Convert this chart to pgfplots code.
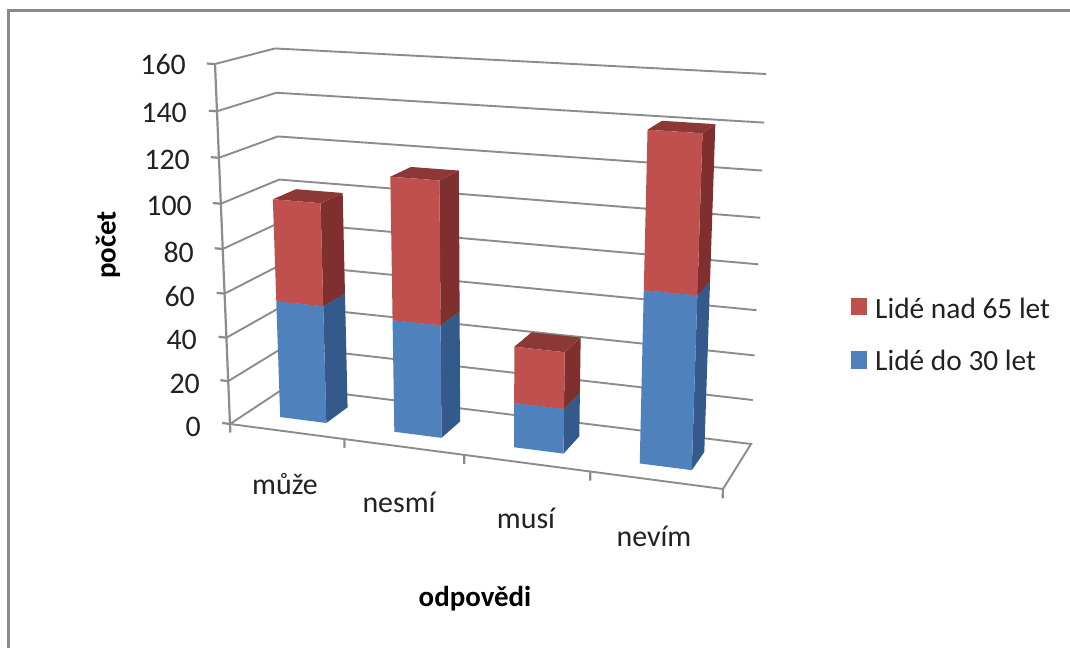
\documentclass[border=0pt]{standalone}
\usepackage{pgfplots}
\pgfplotsset{compat=1.18}
\usepackage{fontspec}
\setmainfont{Carlito}
\definecolor{gridgray}{HTML}{8C8C8C}
\definecolor{framegray}{HTML}{8A8A8A}
\definecolor{redfront}{HTML}{C0504D}
\definecolor{redside}{HTML}{7F302E}
\definecolor{redtop}{HTML}{8C3836}
\definecolor{bluefront}{HTML}{4F81BD}
\definecolor{blueside}{HTML}{335A8A}
\definecolor{bluetop}{HTML}{3F6797}
\definecolor{inkdark}{HTML}{222222}

% One polygon of the box, given as rows of category position, depth and value.
\newcommand{\poly}[2]{%
  \addplot[#1] table[row sep=\\,
    x expr={px(\thisrow{c},\thisrow{d},\thisrow{v})},
    y expr={py(\thisrow{c},\thisrow{d},\thisrow{v})}] {c d v\\ #2};}

% One stacked segment: left, right, lower value, upper value, three shades.
\newcommand{\seg}[7]{%
  \poly{fill=#6,draw=none}{#2 0.29 #3\\ #2 0.70 #3\\ #2 0.70 #4\\ #2 0.29 #4\\}
  \poly{fill=#7,draw=none}{#1 0.29 #4\\ #2 0.29 #4\\ #2 0.70 #4\\ #1 0.70 #4\\}
  \poly{fill=#5,draw=none}{#1 0.29 #3\\ #2 0.29 #3\\ #2 0.29 #4\\ #1 0.29 #4\\}
}
% One bar: left, right, value of the lower series, sum of both series.
\newcommand{\stackbar}[4]{%
  \seg{#1}{#2}{0}{#3}{bluefront}{blueside}{bluetop}
  \seg{#1}{#2}{#3}{#4}{redfront}{redside}{redtop}
}

\begin{document}
\begin{tikzpicture}
\begin{axis}[
  scale only axis, width=1070bp, height=648bp,
  xmin=0, xmax=1070, ymin=0, ymax=648, y dir=reverse,
  hide axis, clip=true,
  declare function={
    pw(\pos,\dep,\val)=1-0.09431*\pos/4+0.06589*\dep-0.054*\val/160;
    px(\pos,\dep,\val)=(424.81*\pos/4+74.85*\dep-26.61*\val/160+230)/pw(\pos,\dep,\val);
    py(\pos,\dep,\val)=(18.88*\pos/4-11.50*\dep-363.46*\val/160+424)/pw(\pos,\dep,\val);
  },
  every axis plot/.append style={forget plot},
]
% page and outer frame
\addplot[draw=none,fill=white] coordinates {(0,0) (1070,0) (1070,648) (0,648)} --cycle;
\addplot[draw=framegray,line width=2.7bp] coordinates {(8.5,700) (8.5,10.3) (1100,10.3)};

% gridlines on the two walls
\pgfplotsinvokeforeach{20,40,...,160}{
  \poly{draw=gridgray,line width=1.9bp}{0 0 #1\\ 0 1 #1\\ 4 1 #1\\}
}
% floor outline
\poly{draw=gridgray,line width=1.9bp}{0 1 0\\ 0 0 0\\ 4 0 0\\ 4 1 0\\ 0 1 0\\}
% value axis with its ticks
\poly{draw=gridgray,line width=2.2bp}{0 0 0\\ 0 0 160\\}
\pgfplotsinvokeforeach{0,20,...,160}{
  \poly{draw=gridgray,line width=2.2bp}{-0.07 0 #1\\ 0 0 #1\\}
}
% category ticks
\pgfplotsinvokeforeach{0,1,2,3,4}{
  \poly{draw=gridgray,line width=2.2bp}{#1 0 0\\ #1 0 -4\\}
}

% stacked bars: lower series, then sum
\stackbar{0.3}{0.71}{54}{100}
\stackbar{1.3}{1.7}{51}{114}
\stackbar{2.3}{2.7}{20}{45}
\stackbar{3.3}{3.7}{75}{141}

% legend keys
\addplot[fill=redfront,draw=none] coordinates {(851,298) (867,298) (867,315) (851,315)} --cycle;
\addplot[fill=bluefront,draw=none] coordinates {(851,351) (867,351) (867,369) (851,369)} --cycle;

\tikzset{lab/.style={text=inkdark,inner sep=0pt,font=\fontsize{30}{33}\selectfont}}
% value labels
\node[lab,anchor=east] at (axis cs:186,65) {160};
\node[lab,anchor=east] at (axis cs:187,113) {140};
\node[lab,anchor=east] at (axis cs:190,160) {120};
\node[lab,anchor=east] at (axis cs:192,206) {100};
\node[lab,anchor=east] at (axis cs:194,252) {80};
\node[lab,anchor=east] at (axis cs:195,297) {60};
\node[lab,anchor=east] at (axis cs:197,340) {40};
\node[lab,anchor=east] at (axis cs:200,384) {20};
\node[lab,anchor=east] at (axis cs:201,427) {0};
% category labels
\tikzset{cat/.style={text=inkdark,inner sep=0pt,font=\fontsize{30}{33}\selectfont}}
\node[cat] at (axis cs:285,484) {může};
\node[cat] at (axis cs:399,502) {nesmí};
\node[cat] at (axis cs:526,518) {musí};
\node[cat] at (axis cs:654,536) {nevím};
% axis titles
\node[text=black,inner sep=0pt,font=\fontsize{29}{32}\selectfont\bfseries] at (axis cs:475,599) {odpovědi};
\node[text=black,inner sep=0pt,rotate=90,font=\fontsize{29}{32}\selectfont\bfseries] at (axis cs:108,245) {počet};
% legend text
\node[cat,anchor=west,font=\fontsize{29.5}{33}\selectfont] at (axis cs:875,308) {Lidé nad 65 let};
\node[cat,anchor=west,font=\fontsize{29.5}{33}\selectfont] at (axis cs:875,360) {Lidé do 30 let};
\end{axis}
\end{tikzpicture}
\end{document}
